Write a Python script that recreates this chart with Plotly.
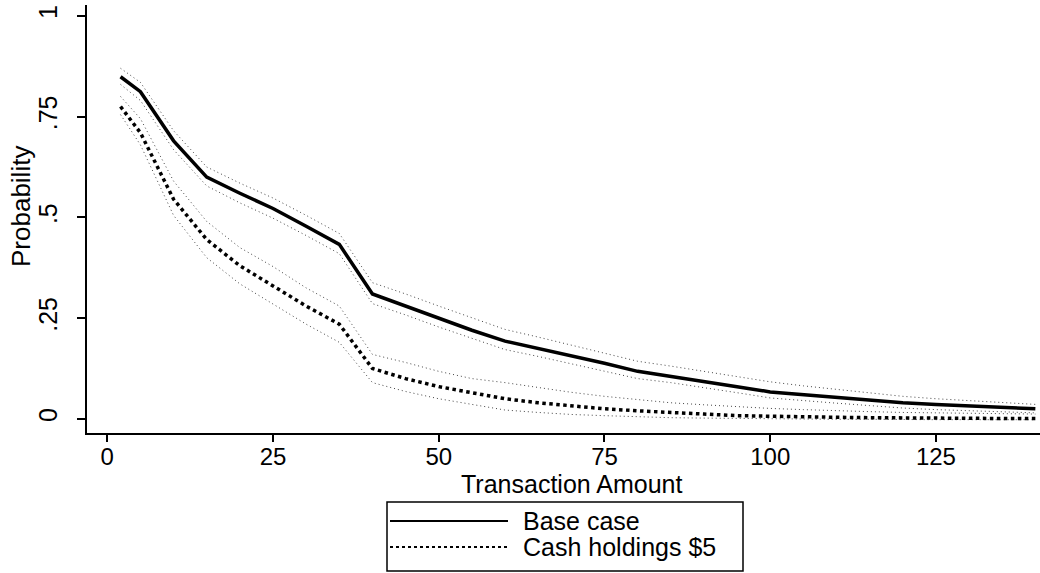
import plotly.graph_objects as go

# Transaction amounts at which probabilities were evaluated
amount = [2, 5, 10, 15, 20, 25, 30, 35, 40, 45, 50, 55, 60, 65, 70, 75, 80,
          85, 90, 95, 100, 105, 110, 115, 120, 125, 130, 135, 140]

# Base case: point estimate with upper / lower confidence bounds
base = [0.849, 0.812, 0.690, 0.600, 0.560, 0.522, 0.478, 0.433, 0.310, 0.280,
        0.250, 0.220, 0.193, 0.175, 0.156, 0.138, 0.118, 0.106, 0.094, 0.080,
        0.067, 0.060, 0.053, 0.046, 0.040, 0.036, 0.032, 0.028, 0.025]
base_hi = [0.870, 0.835, 0.715, 0.625, 0.585, 0.548, 0.505, 0.460, 0.338, 0.310,
           0.280, 0.250, 0.222, 0.203, 0.183, 0.163, 0.143, 0.131, 0.118, 0.104,
           0.092, 0.082, 0.073, 0.064, 0.056, 0.050, 0.045, 0.040, 0.036]
base_lo = [0.830, 0.790, 0.668, 0.578, 0.536, 0.498, 0.455, 0.410, 0.286, 0.258,
           0.228, 0.200, 0.172, 0.155, 0.137, 0.118, 0.100, 0.090, 0.078, 0.065,
           0.052, 0.045, 0.039, 0.033, 0.027, 0.023, 0.020, 0.017, 0.015]

# Cash holdings $5: point estimate with upper / lower confidence bounds
cash = [0.775, 0.710, 0.545, 0.445, 0.380, 0.330, 0.280, 0.235, 0.125, 0.100,
        0.080, 0.065, 0.050, 0.040, 0.032, 0.025, 0.020, 0.015, 0.012, 0.008,
        0.006, 0.005, 0.004, 0.003, 0.002, 0.002, 0.001, 0.001, 0.001]
cash_hi = [0.800, 0.745, 0.590, 0.490, 0.425, 0.378, 0.325, 0.280, 0.160, 0.140,
           0.118, 0.100, 0.090, 0.078, 0.066, 0.056, 0.048, 0.040, 0.035, 0.030,
           0.026, 0.023, 0.020, 0.018, 0.016, 0.015, 0.014, 0.013, 0.012]
cash_lo = [0.755, 0.680, 0.505, 0.400, 0.335, 0.285, 0.235, 0.190, 0.090, 0.068,
           0.050, 0.036, 0.022, 0.016, 0.011, 0.008, 0.005, 0.003, 0.002, 0.001,
           0.000, 0.000, -0.001, -0.001, -0.002, -0.002, -0.002, -0.002, -0.002]

x_ticks = [0, 25, 50, 75, 100, 125]
y_ticks = [0, 0.25, 0.5, 0.75, 1]
y_tick_text = ["0", ".25", ".5", ".75", "1"]
legend_labels = ["Base case", "Cash holdings $5"]

FONT = "Liberation Sans, Arial, sans-serif"

fig = go.Figure()

band_style = dict(color="#444444", width=1, dash="1px,3px")
for band in (base_hi, base_lo, cash_hi, cash_lo):
    fig.add_trace(go.Scatter(x=amount, y=band, mode="lines", line=band_style,
                             showlegend=False, hoverinfo="skip"))

fig.add_trace(go.Scatter(x=amount, y=cash, mode="lines", name=legend_labels[1],
                         line=dict(color="black", width=3.5, dash="dot"),
                         showlegend=False))
fig.add_trace(go.Scatter(x=amount, y=base, mode="lines", name=legend_labels[0],
                         line=dict(color="black", width=3.5),
                         showlegend=False))

# plot area geometry in pixels (used for the boxed key below the axis)
W, H = 1040, 573
L, R, T, B = 87, 0, 5, 140
pw, ph = W - L - R, H - T - B


def px_x(p):
    return (p - L) / pw


def px_y(p):
    return (H - B - p) / ph


# boxed key
fig.add_shape(type="rect", xref="paper", yref="paper",
              x0=px_x(387), x1=px_x(743), y0=px_y(502), y1=px_y(571),
              line=dict(color="black", width=1.5), fillcolor="white")
fig.add_shape(type="line", xref="paper", yref="paper",
              x0=px_x(390), x1=px_x(508), y0=px_y(521), y1=px_y(521),
              line=dict(color="black", width=2))
fig.add_shape(type="line", xref="paper", yref="paper",
              x0=px_x(390), x1=px_x(508), y0=px_y(547), y1=px_y(547),
              line=dict(color="black", width=2, dash="dot"))
for label, ypix in zip(legend_labels, (521, 547)):
    fig.add_annotation(xref="paper", yref="paper", x=px_x(521), y=px_y(ypix),
                       text=label, showarrow=False, xanchor="left",
                       yanchor="middle", font=dict(family=FONT, size=25, color="black"))

# axis titles
fig.add_annotation(xref="paper", yref="paper", x=px_x(571), y=px_y(484),
                   text="Transaction Amount", showarrow=False,
                   xanchor="center", yanchor="middle",
                   font=dict(family=FONT, size=25, color="black"))
fig.add_annotation(xref="paper", yref="paper", x=px_x(21), y=px_y(207),
                   text="Probability", showarrow=False, textangle=-90,
                   xanchor="center", yanchor="middle",
                   font=dict(family=FONT, size=26, color="black"))

fig.update_layout(
    width=W, height=H,
    margin=dict(l=L, r=R, t=T, b=B, pad=0),
    paper_bgcolor="white", plot_bgcolor="white",
    font=dict(family=FONT, size=25, color="black"),
    showlegend=False,
)
fig.update_xaxes(range=[-3.06, 140.7], tickvals=x_ticks, ticks="outside",
                 ticklen=7, tickwidth=1.5, tickcolor="black",
                 ticklabelstandoff=-6,
                 showline=True, linecolor="black", linewidth=2,
                 showgrid=False, zeroline=False,
                 tickfont=dict(family=FONT, size=24, color="black"))
fig.update_yaxes(range=[-0.035, 1.027], tickvals=y_ticks, ticktext=y_tick_text,
                 ticks="outside", ticklen=8, tickwidth=1.5, tickcolor="black",
                 tickangle=-90, ticklabelstandoff=10,
                 showline=True, linecolor="black", linewidth=2,
                 showgrid=False, zeroline=False,
                 tickfont=dict(family=FONT, size=25, color="black"))

fig.write_html("out.html")
